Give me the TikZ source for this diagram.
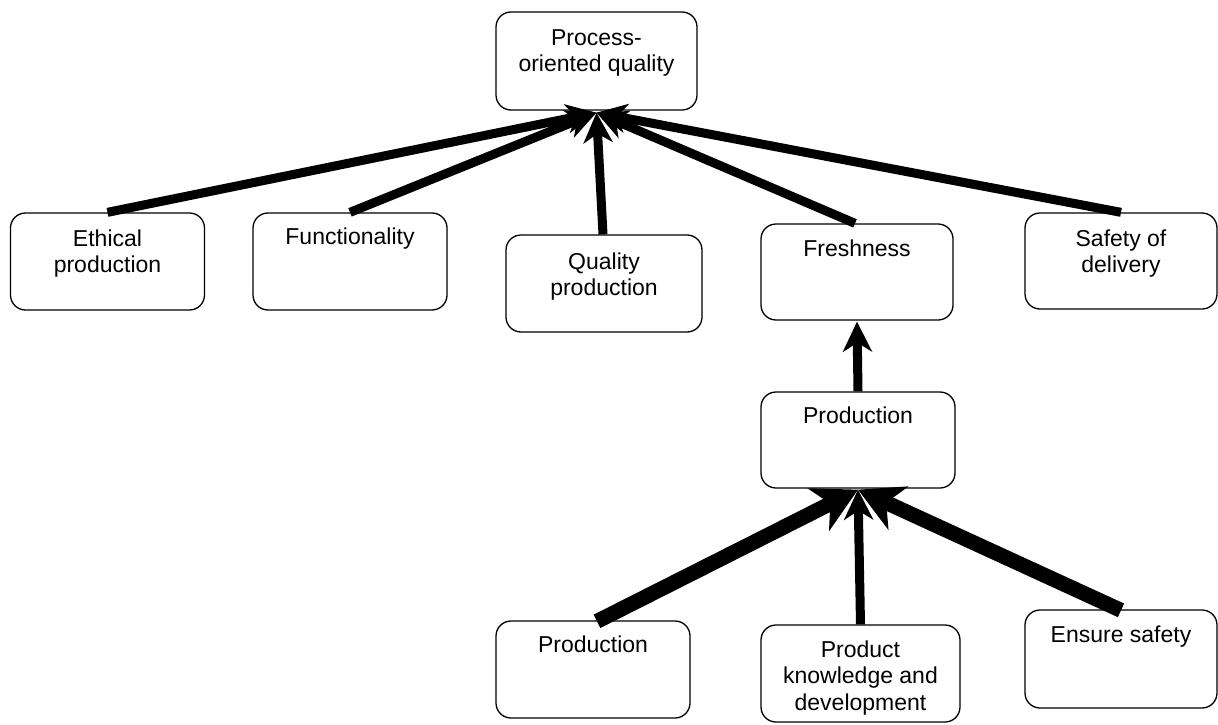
\documentclass[tikz,border=0pt]{standalone}
\usepackage{fontspec}
\setmainfont{Liberation Sans}
\usetikzlibrary{arrows.meta}

\tikzset{
  box/.style={draw=black, line width=1.3pt, rounded corners=15pt, fill=white,
    minimum width=194pt, minimum height=97pt, inner sep=0pt},
  lbl/.style={align=center, inner sep=0pt, anchor=north,
    font=\fontsize{23}{26.5}\selectfont},
  link/.style={line width=9pt, draw=black,
    -{Stealth[length=30pt, width=29pt, inset=9pt]}},
  heavylink/.style={line width=15pt, draw=black,
    -{Stealth[length=44pt, width=47pt, inset=13pt]}},
}

\begin{document}
\begin{tikzpicture}[x=1pt, y=-1pt]
  \useasboundingbox (0,0) rectangle (1218,725);

  % boxes
  \node[box, minimum width=201pt, minimum height=98pt] (pq) at (596.5,61) {};
  \node[box] (eth)   at (107.5,261.5) {};
  \node[box] (fun)   at (350,261.5) {};
  \node[box, minimum width=196pt] (qual) at (604,283.5) {};
  \node[box, minimum width=192pt, minimum height=96pt] (fresh) at (857,272) {};
  \node[box, minimum width=192pt, minimum height=96pt] (saf)   at (1121,261) {};
  \node[box, minimum width=194pt, minimum height=96pt] (prodm) at (858,440) {};
  \node[box] (prodb) at (593,669.5) {};
  \node[box, minimum width=199pt] (pkd) at (860.5,673.5) {};
  \node[box, minimum width=192pt, minimum height=98pt] (ens) at (1121,659) {};

  % labels, hung from the top of each box
  \node[lbl] (pq-t)    at ([yshift=-18pt]pq.north)    {Process-\\oriented quality};
  \node[lbl] (eth-t)   at ([yshift=-17pt]eth.north)   {Ethical\\production};
  \node[lbl] (fun-t)   at ([yshift=-15pt]fun.north)   {Functionality};
  \node[lbl] (qual-t)  at ([yshift=-18pt]qual.north)  {Quality\\production};
  \node[lbl] (fresh-t) at ([yshift=-16pt]fresh.north) {Freshness};
  \node[lbl] (saf-t)   at ([yshift=-17pt]saf.north)   {Safety of\\delivery};
  \node[lbl] (prodm-t) at ([yshift=-15pt]prodm.north) {Production};
  \node[lbl] (prodb-t) at ([yshift=-15pt]prodb.north) {Production};
  \node[lbl] (pkd-t)   at ([yshift=-16pt]pkd.north)   {Product\\knowledge and\\development};
  \node[lbl] (ens-t)   at ([yshift=-16pt]ens.north)   {Ensure safety};

  % connectors into the top box
  \draw[link] (eth.north)   -- ([yshift=-2pt]pq.south);
  \draw[link] (fun.north)   -- ([yshift=-2pt]pq.south);
  \draw[link] ([xshift=-1pt]qual.north) -- ([yshift=-2pt]pq.south);
  \draw[link] ([xshift=-2pt]fresh.north) -- ([yshift=-2pt]pq.south);
  \draw[link] (saf.north)   -- ([yshift=-2pt]pq.south);

  % production chain
  \draw[link] (prodm.north) -- ([yshift=-1pt]fresh.south);
  \draw[heavylink] ([xshift=4pt,yshift=-1pt]prodb.north) -- ([yshift=-1pt]prodm.south);
  \draw[link] (pkd.north) -- ([yshift=-1pt]prodm.south);
  \draw[heavylink] ([yshift=-1pt]ens.north) -- ([yshift=-1pt]prodm.south);
\end{tikzpicture}
\end{document}
